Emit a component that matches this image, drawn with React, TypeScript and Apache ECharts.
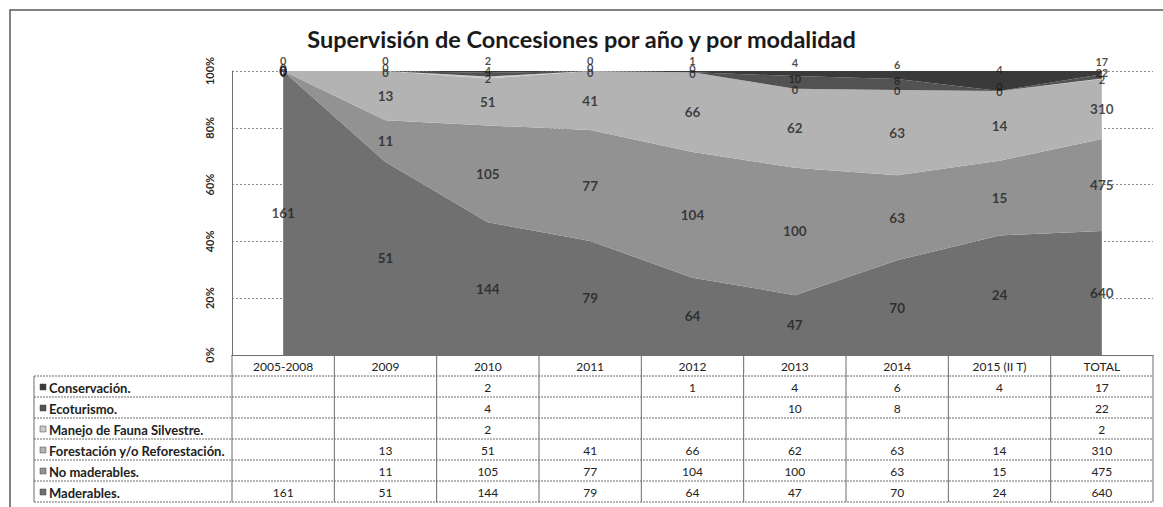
import React, { useEffect, useRef } from 'react';
import * as echarts from 'echarts';

const categories = ['2005-2008', '2009', '2010', '2011', '2012', '2013', '2014', '2015 (II T)', 'TOTAL'];
const conservacion = [0, 0, 2, 0, 1, 4, 6, 4, 17];
const ecoturismo = [0, 0, 4, 0, 0, 10, 8, 0, 22];
const manejoFauna = [0, 0, 2, 0, 0, 0, 0, 0, 2];
const forestacion = [0, 13, 51, 41, 66, 62, 63, 14, 310];
const noMaderables = [0, 11, 105, 77, 104, 100, 63, 15, 475];
const maderables = [161, 51, 144, 79, 64, 47, 70, 24, 640];
const yTickStep = 20;
const titleText = 'Supervisión de Concesiones por año y por modalidad';

// Stack order bottom -> top
const stackSeries = [
  { name: 'Maderables.', data: maderables, color: '#707070', labelSize: 13.5, offset: [0, 0] },
  { name: 'No maderables.', data: noMaderables, color: '#929292', labelSize: 13.5, offset: [0, 0] },
  { name: 'Forestación y/o Reforestación.', data: forestacion, color: '#b3b3b3', labelSize: 13.5, offset: [0, 0] },
  { name: 'Manejo de Fauna Silvestre.', data: manejoFauna, color: '#c9c9c9', labelSize: 11, offset: [0, 1] },
  { name: 'Ecoturismo.', data: ecoturismo, color: '#525252', labelSize: 11, offset: [0, -4] },
  { name: 'Conservación.', data: conservacion, color: '#3a3a3a', labelSize: 11, offset: [0, -11] },
];

const FONT = 'Lato, "Open Sans", sans-serif';

export default function App() {
  const ref = useRef<HTMLDivElement>(null);

  useEffect(() => {
    if (!ref.current) return;
    const chart = echarts.init(ref.current, undefined, { renderer: 'svg' });

    const totals = categories.map((_, i) => stackSeries.reduce((s, ser) => s + ser.data[i], 0));
    const pct = stackSeries.map((ser) => ser.data.map((v, i) => (v / totals[i]) * 100));

    const areaSeries = stackSeries.map((ser, k) => ({
      name: ser.name,
      type: 'line',
      stack: 'all',
      data: pct[k],
      symbol: 'none',
      lineStyle: { width: 0 },
      areaStyle: { color: ser.color, opacity: 1 },
      silent: true,
      z: 2,
    }));

    const labelSeries = stackSeries.map((ser, k) => ({
      name: ser.name + ' labels',
      type: 'scatter',
      symbolSize: 0,
      z: 5,
      data: categories.map((_, i) => {
        let below = 0;
        for (let j = 0; j < k; j++) below += pct[j][i];
        return [i, below + pct[k][i] / 2, ser.data[i]];
      }),
      label: {
        show: true,
        position: 'inside',
        offset: ser.offset,
        formatter: (p: any) => String(p.value[2]),
        fontFamily: FONT,
        fontSize: ser.labelSize,
        fontWeight: 'bold',
        color: '#1e1e1e',
      },
    }));

    chart.setOption({
      animation: false,
      backgroundColor: '#ffffff',
      title: {
        text: titleText,
        left: 'center',
        top: 22,
        textStyle: { fontFamily: FONT, fontSize: 23.5, fontWeight: 'bold', color: '#1a1a1a' },
      },
      grid: { left: 232, right: 10, top: 71, bottom: 152 },
      xAxis: {
        type: 'category',
        data: categories,
        boundaryGap: true,
        axisLabel: { show: false },
        axisTick: { show: false },
        axisLine: { show: true, lineStyle: { color: '#6f6f6f', width: 1 } },
      },
      yAxis: {
        type: 'value',
        min: 0,
        max: 100,
        interval: yTickStep,
        axisLine: { show: true, lineStyle: { color: '#6f6f6f', width: 1 } },
        axisTick: { show: false },
        splitLine: { show: true, lineStyle: { color: '#8a8a8a', type: [2, 2], width: 1 } },
        axisLabel: {
          formatter: '{value}%',
          rotate: 90,
          margin: 17,
          fontFamily: FONT,
          fontSize: 11,
          fontWeight: 'bold',
          color: '#2a2a2a',
        },
      },
      series: [...areaSeries, ...labelSeries],
    });

    // Data table drawn below the plot, aligned to the category axis
    const xs = categories.map((_, i) => chart.convertToPixel({ xAxisIndex: 0 }, i) as number);
    const colW = xs[1] - xs[0];
    const tableLeft = xs[0] - colW / 2;
    const tableRight = xs[xs.length - 1] + colW / 2;
    const yTop = chart.convertToPixel({ yAxisIndex: 0 }, 0) as number;
    const headerH = 21;
    const rowH = 21;
    const labelLeft = 34;
    const rowsTop = yTop + headerH;
    const tableRows = [...stackSeries].reverse();
    const tableBottom = rowsTop + rowH * tableRows.length;

    const g: any[] = [];
    // outer frame
    g.push({
      type: 'rect',
      shape: { x: 10, y: 10, width: 1170, height: 520 },
      style: { fill: 'none', stroke: '#5a5a5a', lineWidth: 1.5 },
      z: 0,
    });
    // horizontal lines
    for (let r = 0; r <= tableRows.length; r++) {
      const y = rowsTop + r * rowH;
      g.push({
        type: 'line',
        shape: { x1: labelLeft, y1: y, x2: tableRight, y2: y },
        style: { stroke: '#6a6a6a', lineWidth: 1, lineDash: [2, 1] },
        z: 10,
      });
    }
    // vertical lines
    for (let c = 0; c <= categories.length; c++) {
      const x = tableLeft + c * colW;
      g.push({
        type: 'line',
        shape: { x1: x, y1: yTop, x2: x, y2: tableBottom },
        style: { stroke: '#6a6a6a', lineWidth: 1 },
        z: 10,
      });
    }
    g.push({
      type: 'line',
      shape: { x1: labelLeft, y1: rowsTop, x2: labelLeft, y2: tableBottom },
      style: { stroke: '#6a6a6a', lineWidth: 1 },
      z: 10,
    });
    // header
    categories.forEach((cat, i) => {
      g.push({
        type: 'text',
        x: xs[i],
        y: yTop + headerH / 2 + 1,
        style: {
          text: cat,
          textAlign: 'center',
          textVerticalAlign: 'middle',
          fontFamily: FONT,
          fontSize: 12,
          fill: '#222',
        },
        z: 11,
      });
    });
    // rows
    tableRows.forEach((ser, r) => {
      const cy = rowsTop + r * rowH + rowH / 2 + 1;
      g.push({
        type: 'rect',
        shape: { x: labelLeft + 6, y: cy - 3.5, width: 6, height: 6 },
        style: { fill: ser.color, stroke: '#444', lineWidth: 0.5 },
        z: 11,
      });
      g.push({
        type: 'text',
        x: labelLeft + 15,
        y: cy,
        style: {
          text: ser.name,
          textAlign: 'left',
          textVerticalAlign: 'middle',
          fontFamily: FONT,
          fontSize: 13,
          fontWeight: 'bold',
          fill: '#222',
        },
        z: 11,
      });
      ser.data.forEach((v, i) => {
        if (!v) return;
        g.push({
          type: 'text',
          x: xs[i],
          y: cy,
          style: {
            text: String(v),
            textAlign: 'center',
            textVerticalAlign: 'middle',
            fontFamily: FONT,
            fontSize: 12,
            fill: '#222',
          },
          z: 11,
        });
      });
    });

    chart.setOption({ graphic: g });

    return () => chart.dispose();
  }, []);

  return (
    <div
      ref={ref}
      style={{ position: 'absolute', left: 0, top: 0, width: 1163, height: 507 }}
    />
  );
}
